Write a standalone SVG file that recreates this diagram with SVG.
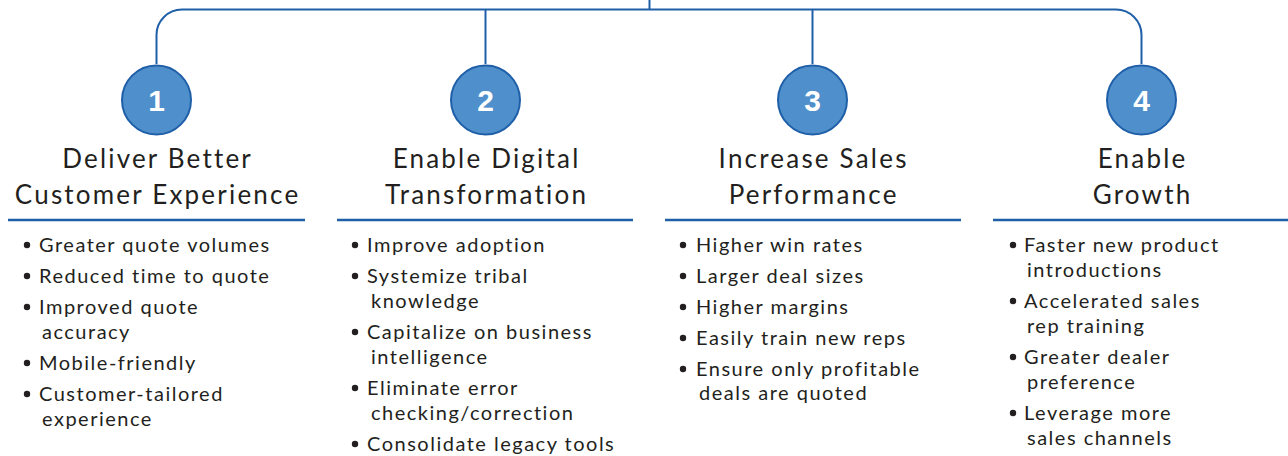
<svg xmlns="http://www.w3.org/2000/svg" width="1288" height="456" viewBox="0 0 1288 456">
<style>
.conn{fill:none;stroke:#1F5FA8;stroke-width:2}
.circ{fill:#4F8FCB;stroke:#1F5FA8;stroke-width:2}
.num{font-family:"Liberation Sans",Arial,sans-serif;font-weight:bold;font-size:30px;fill:#FFFFFF;text-anchor:middle}
.title{font-family:Lato,"Open Sans",sans-serif;font-weight:400;font-size:26px;letter-spacing:2.2px;fill:#231F20;text-anchor:middle}
.rule{stroke:#1F5FA8;stroke-width:2.5}
.item{font-family:Lato,"Open Sans",sans-serif;font-weight:400;font-size:20px;letter-spacing:1.5px;fill:#231F20}
.dot{fill:#231F20}
</style>
<rect width="1288" height="456" fill="#FFFFFF"/>
<g id="connectors">
<path class="conn" d="M649.5,0 V9.5"/>
<path class="conn" d="M156.5,64 V35 A25.5,25.5 0 0 1 182,9.5 H1116 A25.5,25.5 0 0 1 1141.5,35 V64"/>
<path class="conn" d="M485.5,9.5 V64"/>
<path class="conn" d="M812.5,9.5 V64"/>
</g>
<g id="node1">
<circle class="circ" cx="156.5" cy="100" r="34.5"/>
<text class="num" x="156.5" y="111">1</text>
<text class="title" x="157.6" y="168">Deliver Better</text>
<text class="title" x="157.6" y="204">Customer Experience</text>
<line class="rule" x1="8" y1="220" x2="305" y2="220"/>
<circle class="dot" cx="27" cy="245" r="3.2"/><text class="item" x="39" y="252">Greater quote volumes</text>
<circle class="dot" cx="27" cy="276" r="3.2"/><text class="item" x="39" y="283">Reduced time to quote</text>
<circle class="dot" cx="27" cy="307" r="3.2"/><text class="item" x="39" y="314">Improved quote</text>
<text class="item" x="42" y="339">accuracy</text>
<circle class="dot" cx="27" cy="363" r="3.2"/><text class="item" x="39" y="370">Mobile-friendly</text>
<circle class="dot" cx="27" cy="394" r="3.2"/><text class="item" x="39" y="401">Customer-tailored</text>
<text class="item" x="42" y="426">experience</text>
</g>
<g id="node2">
<circle class="circ" cx="485.5" cy="100" r="34.5"/>
<text class="num" x="485.5" y="111">2</text>
<text class="title" x="486.6" y="168">Enable Digital</text>
<text class="title" x="486.6" y="204">Transformation</text>
<line class="rule" x1="337" y1="220" x2="633" y2="220"/>
<circle class="dot" cx="355" cy="245" r="3.2"/><text class="item" x="367" y="252">Improve adoption</text>
<circle class="dot" cx="355" cy="276" r="3.2"/><text class="item" x="367" y="283">Systemize tribal</text>
<text class="item" x="371" y="308">knowledge</text>
<circle class="dot" cx="355" cy="332" r="3.2"/><text class="item" x="367" y="339">Capitalize on business</text>
<text class="item" x="371" y="364">intelligence</text>
<circle class="dot" cx="355" cy="388" r="3.2"/><text class="item" x="367" y="395">Eliminate error</text>
<text class="item" x="371" y="420">checking/correction</text>
<circle class="dot" cx="355" cy="444" r="3.2"/><text class="item" x="367" y="451">Consolidate legacy tools</text>
</g>
<g id="node3">
<circle class="circ" cx="812.5" cy="100" r="34.5"/>
<text class="num" x="812.5" y="111">3</text>
<text class="title" x="813.6" y="168">Increase Sales</text>
<text class="title" x="813.6" y="204">Performance</text>
<line class="rule" x1="665" y1="220" x2="961" y2="220"/>
<circle class="dot" cx="683" cy="245" r="3.2"/><text class="item" x="696" y="252">Higher win rates</text>
<circle class="dot" cx="683" cy="276" r="3.2"/><text class="item" x="696" y="283">Larger deal sizes</text>
<circle class="dot" cx="683" cy="307" r="3.2"/><text class="item" x="696" y="314">Higher margins</text>
<circle class="dot" cx="683" cy="338" r="3.2"/><text class="item" x="696" y="345">Easily train new reps</text>
<circle class="dot" cx="683" cy="369" r="3.2"/><text class="item" x="696" y="376">Ensure only profitable</text>
<text class="item" x="699" y="400">deals are quoted</text>
</g>
<g id="node4">
<circle class="circ" cx="1141.5" cy="100" r="34.5"/>
<text class="num" x="1141.5" y="111">4</text>
<text class="title" x="1142.6" y="168">Enable</text>
<text class="title" x="1142.6" y="204">Growth</text>
<line class="rule" x1="993" y1="220" x2="1288" y2="220"/>
<circle class="dot" cx="1013" cy="245" r="3.2"/><text class="item" x="1024" y="252">Faster new product</text>
<text class="item" x="1027" y="277">introductions</text>
<circle class="dot" cx="1013" cy="301" r="3.2"/><text class="item" x="1024" y="308">Accelerated sales</text>
<text class="item" x="1027" y="333">rep training</text>
<circle class="dot" cx="1013" cy="357" r="3.2"/><text class="item" x="1024" y="364">Greater dealer</text>
<text class="item" x="1027" y="389">preference</text>
<circle class="dot" cx="1013" cy="413" r="3.2"/><text class="item" x="1024" y="420">Leverage more</text>
<text class="item" x="1027" y="445">sales channels</text>
</g>
</svg>
